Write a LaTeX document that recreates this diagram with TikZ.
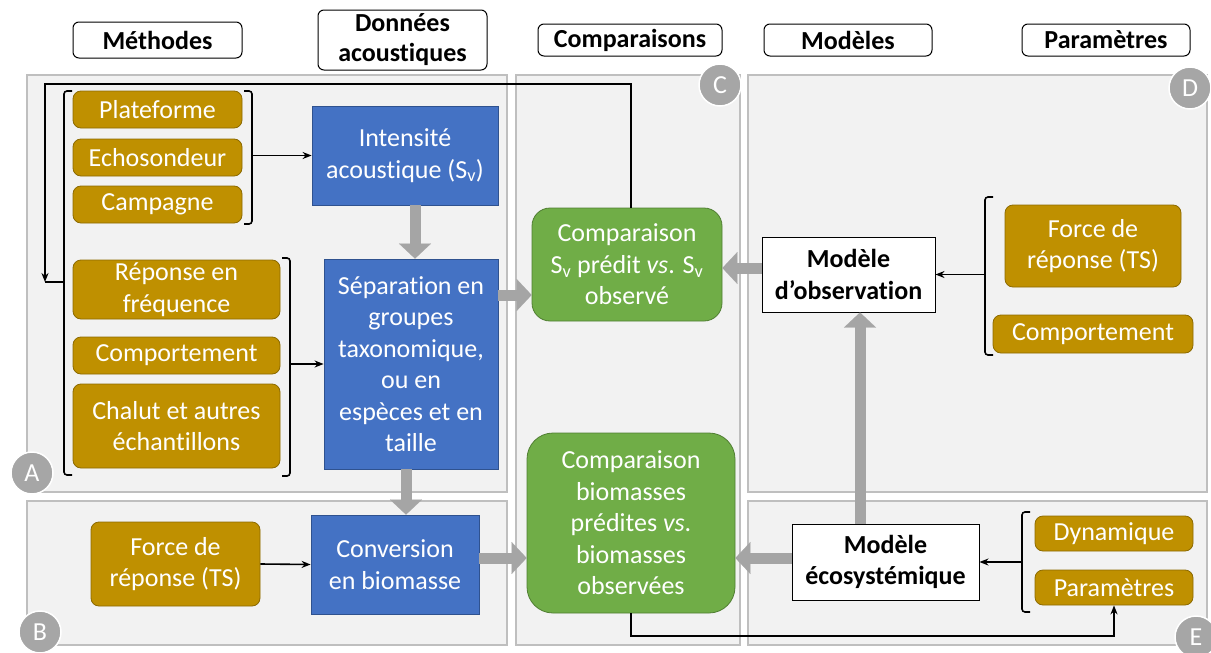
\documentclass[tikz,border=0pt]{standalone}
\usepackage{fontspec}
\setmainfont[Ligatures={NoCommon,NoRare}]{Carlito}
\usetikzlibrary{arrows.meta,calc}
\definecolor{gold}{HTML}{BF9000}
\definecolor{goldline}{HTML}{8C6A00}
\definecolor{bluefill}{HTML}{4472C4}
\definecolor{blueline}{HTML}{2F528F}
\definecolor{greenfill}{HTML}{70AD47}
\definecolor{greenline}{HTML}{507E32}
\definecolor{panelfill}{HTML}{F2F2F2}
\definecolor{panelline}{HTML}{BFBFBF}
\definecolor{circfill}{HTML}{A6A6A6}
\definecolor{arrgray}{HTML}{A5A5A5}
\tikzset{
  bodyfont/.style={font=\fontsize{26}{31.5}\selectfont},
  panel/.style={fill=panelfill,draw=panelline,line width=1.5pt},
  header/.style={draw=black,fill=white,rounded corners=6pt,line width=1pt,inner sep=0pt,align=center,font=\fontsize{26}{30}\selectfont\bfseries},
  goldbox/.style={fill=gold,draw=goldline,line width=0.8pt,rounded corners=8pt,inner sep=0pt,align=center,text=white,bodyfont},
  bluebox/.style={fill=bluefill,draw=blueline,line width=0.8pt,inner sep=0pt,align=center,text=white,bodyfont},
  greenbox/.style={fill=greenfill,draw=greenline,line width=0.8pt,inner sep=0pt,align=center,text=white,bodyfont},
  whitebox/.style={fill=white,draw=black,line width=1pt,inner sep=0pt,align=center,font=\fontsize{26}{31.5}\selectfont\bfseries},
  circlab/.style={circle,fill=circfill,draw=white,line width=1.5pt,minimum size=42pt,inner sep=0pt,text=white,font=\fontsize{26}{26}\selectfont},
  blk/.style={draw=arrgray,line width=11pt,-{Triangle[width=32pt,length=15pt,line width=0.1pt]}},
  tarrow/.style={draw=black,line width=1.6pt,-{Stealth[length=9pt,width=7pt]}},
  tline/.style={draw=black,line width=1.6pt},
  brk/.style={draw=black,line width=1.6pt,rounded corners=3pt},
}
\begin{document}
\begin{tikzpicture}[x=1pt,y=-1pt]
\useasboundingbox (0,0) rectangle (1211,653);
% panels
\draw[panel] (27,75) rectangle (507,492);
\draw[panel] (27,501) rectangle (507,645);
\draw[panel] (516,75) rectangle (740,645);
\draw[panel] (748,75) rectangle (1207,492);
\draw[panel] (748,501) rectangle (1207,645);
% headers
\node[header,minimum width=169pt,minimum height=36pt] (hMeth) at (157.5,40) {Méthodes};
\node[header,minimum width=169pt,minimum height=60pt] (hDon) at (402.5,40) {Données\\acoustiques};
\node[header,minimum width=184pt,minimum height=32pt] (hComp) at (630,40) {Comparaisons};
\node[header,minimum width=168pt,minimum height=32pt] (hMod) at (848,40) {Modèles};
\node[header,minimum width=168pt,minimum height=32pt] (hPar) at (1106,40) {Paramètres};
% gold boxes
\node[goldbox,minimum width=169pt,minimum height=37pt] (plat) at (157.5,109.5) {Plateforme};
\node[goldbox,minimum width=169pt,minimum height=37pt] (echo) at (157.5,157.5) {Echosondeur};
\node[goldbox,minimum width=169pt,minimum height=37pt] (camp) at (157.5,204.5) {Campagne};
\node[goldbox,minimum width=207pt,minimum height=59pt] (rep) at (176.5,289.5) {Réponse en\\fréquence};
\node[goldbox,minimum width=207pt,minimum height=37pt] (compA) at (176.5,355.5) {Comportement};
\node[goldbox,minimum width=207pt,minimum height=84pt] (chal) at (176.5,426) {Chalut et autres\\échantillons};
\node[goldbox,minimum width=169pt,minimum height=84pt] (tsB) at (175.5,564) {Force de\\réponse (TS)};
\node[goldbox,minimum width=176pt,minimum height=82pt] (tsD) at (1093,246) {Force de\\réponse (TS)};
\node[goldbox,minimum width=200pt,minimum height=38pt] (compD) at (1093,334) {Comportement};
\node[goldbox,minimum width=158pt,minimum height=35pt] (dyn) at (1114,533.5) {Dynamique};
\node[goldbox,minimum width=158pt,minimum height=35pt] (par) at (1114,587.5) {Paramètres};
% blue boxes
\node[bluebox,minimum width=186pt,minimum height=99pt] (int) at (405,155.5) {Intensité\\acoustique (S\textsubscript{v})};
\node[bluebox,minimum width=174pt,minimum height=210pt] (sep) at (411,364) {Séparation en\\groupes\\taxonomique,\\ou en\\espèces et en\\taille};
\node[bluebox,minimum width=168pt,minimum height=99pt] (conv) at (395,564.5) {Conversion\\en biomasse};
% green boxes
\node[greenbox,rounded corners=18pt,minimum width=190pt,minimum height=113pt] (cmp1) at (627,264.5) {Comparaison\\S\textsubscript{v} prédit \textit{vs}. S\textsubscript{v}\\observé};
\node[greenbox,rounded corners=26pt,minimum width=208pt,minimum height=180pt] (cmp2) at (631,523) {Comparaison\\biomasses\\prédites \textit{vs}.\\biomasses\\observées};
% white boxes
\node[whitebox,minimum width=173pt,minimum height=75pt] (obs) at (848.5,274.5) {Modèle\\d’observation};
\node[whitebox,minimum width=187pt,minimum height=76pt] (eco) at (885.5,562) {Modèle\\écosystémique};
% brackets
\draw[brk] (72,91) -- (64,91) -- (64,475) -- (72,475);
\draw[brk] (244,91) -- (252,91) -- (252,224) -- (244,224);
\draw[brk] (282,258) -- (290,258) -- (290,476) -- (282,476);
\draw[brk] (993,197) -- (985,197) -- (985,355) -- (993,355);
\draw[brk] (1030,512) -- (1022,512) -- (1022,612) -- (1030,612);
\coordinate (b1) at (252,155.5);
\coordinate (b2) at (290,364);
\coordinate (bL) at (64,282);
\coordinate (bD) at (985,274.5);
\coordinate (bE) at (1022,562);
% thin arrows
\draw[tarrow] (b1) -- (int.west);
\draw[tarrow] (b2) -- (sep.west);
\draw[tarrow] (bD) -- (obs.east);
\draw[tarrow] (bE) -- (eco.east);
\draw[tarrow] (tsB.east) -- (conv.west);
\coordinate (fbTop) at (45,84);
\coordinate (fbEnd) at (45,282);
\draw[tarrow] ($(cmp1.north)+(4,0)$) |- (fbTop) -- (fbEnd);
\draw[tline] (bL) -- (fbEnd);
\coordinate (fb2) at (631,636);
\draw[tarrow] (cmp2.south) -- (fb2) -| (par.south);
% block arrows
\draw[blk] ($(int.south)+(10,0)$) -- ($(sep.north)+(4,0)$);
\draw[blk] ($(sep.south)+(-5,0)$) -- ($(conv.north)+(11,0)$);
\draw[blk] ($(sep.east)+(0,-69)$) -- ($(cmp1.west)+(0,30.5)$);
\draw[blk] ($(conv.east)+(0,-6.5)$) -- ($(cmp2.west)+(0,35)$);
\draw[blk] ($(obs.west)+(0,-6.5)$) -- ($(cmp1.east)+(0,3.5)$);
\draw[blk] ($(eco.west)+(0,-4)$) -- ($(cmp2.east)+(0,35)$);
\draw[blk] ($(eco.north)+(-25.5,0)$) -- ($(obs.south)+(11.5,0)$);
% circle labels
\node[circlab] (cA) at (32,473) {A};
\node[circlab] (cB) at (40,632) {B};
\node[circlab] (cC) at (720,85) {C};
\node[circlab] (cD) at (1190,88) {D};
\node[circlab] (cE) at (1196,637) {E};
\end{tikzpicture}
\end{document}
